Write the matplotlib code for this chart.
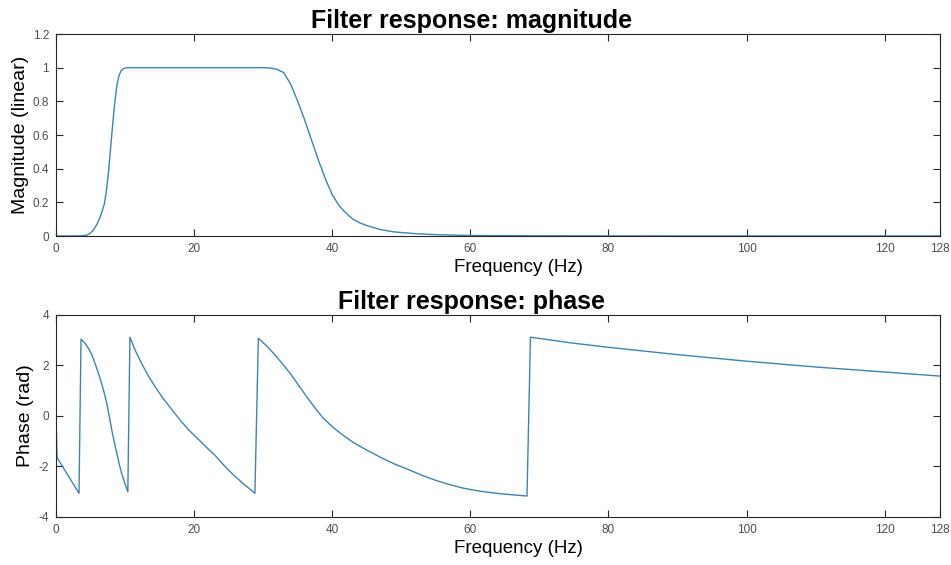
#!/usr/bin/env python3
"""Plot magnitude and phase response of a band-pass filter."""

import matplotlib
matplotlib.use("Agg")
import matplotlib.pyplot as plt
import matplotlib.ticker as ticker

LINE_COLOR = "#3a86b2"
AXIS_COLOR = "#262626"
TICK_COLOR = "#4d4d4d"

plt.rcParams["font.family"] = ["Liberation Sans", "DejaVu Sans"]

# magnitude response (linear), sampled along frequency in Hz
mag_freq = [0, 2, 3.5, 4.0, 4.5, 5.0, 5.5, 6.0, 6.5, 7.0, 7.3, 7.6, 7.9,
            8.2, 8.5, 8.8, 9.1, 9.4, 9.8, 10.3, 15, 20, 25, 30, 31, 32, 33,
            34, 35, 36, 37, 38, 39, 40, 41, 42, 43, 44, 45, 47, 49, 52, 55,
            60, 70, 90, 128]
mag_vals = [0, 0, 0.001, 0.002, 0.006, 0.018, 0.04, 0.075, 0.125, 0.19,
            0.27, 0.38, 0.52, 0.66, 0.79, 0.89, 0.95, 0.98, 0.995, 1.0, 1.0,
            1.0, 1.0, 1.0, 0.998, 0.99, 0.97, 0.9, 0.8, 0.69, 0.57, 0.45,
            0.34, 0.245, 0.18, 0.135, 0.1, 0.078, 0.062, 0.038, 0.024, 0.014,
            0.008, 0.003, 0.001, 0.0002, 0]

# wrapped phase response (rad)
phase_freq = [0, 0.15, 3.33,
              3.62, 4.2, 4.7, 5.2, 5.65, 6.1, 6.6, 7.0, 7.35, 7.7, 8.07,
              8.45, 8.8, 9.15, 9.5, 9.95, 10.4,
              10.7, 11.5, 12.4, 13.3, 14.35, 15.5, 16.8, 18, 19.2, 20.9, 22,
              23.0, 24.3, 25.7, 27.2, 28.8,
              29.3, 30.4, 31.5, 32.7, 33.9, 35.1, 36.3, 37.5, 38.7, 40, 41.2,
              43, 45, 47, 49, 51, 53, 55, 57, 59, 61.4, 64, 66, 68.2,
              68.7, 75, 80, 90, 100, 110, 120, 128]
phase_vals = [0, -1.65, -3.06,
              3.04, 2.88, 2.68, 2.42, 2.08, 1.72, 1.29, 0.9, 0.5, 0.0, -0.55,
              -1.05, -1.48, -1.9, -2.27, -2.65, -3.0,
              3.12, 2.58, 2.08, 1.62, 1.16, 0.7, 0.24, -0.17, -0.55, -1.0,
              -1.3, -1.55, -1.95, -2.34, -2.7, -3.06,
              3.08, 2.8, 2.48, 2.1, 1.69, 1.23, 0.76, 0.32, -0.09, -0.42,
              -0.69, -1.04, -1.35, -1.64, -1.9, -2.12, -2.35, -2.55, -2.72,
              -2.86, -2.98, -3.07, -3.12, -3.17,
              3.12, 2.88, 2.72, 2.43, 2.17, 1.94, 1.74, 1.58]

X_TICKS = [0, 20, 40, 60, 80, 100, 120, 128]


def style_axes(ax, yticks):
    ax.set_xlim(0, 128)
    ax.set_xticks(X_TICKS)
    ax.set_yticks(yticks)
    ax.xaxis.set_major_formatter(ticker.FormatStrFormatter("%g"))
    ax.yaxis.set_major_formatter(ticker.FormatStrFormatter("%g"))
    ax.tick_params(direction="in", top=True, right=True, length=5,
                   width=0.8, color=AXIS_COLOR, labelsize=8.5,
                   labelcolor=TICK_COLOR, pad=5)
    for s in ax.spines.values():
        s.set_color(AXIS_COLOR)
        s.set_linewidth(0.8)


fig = plt.figure(figsize=(9.51, 5.65), dpi=100)
ax1 = fig.add_axes([0.0589, 0.5823, 0.9295, 0.3575])
ax2 = fig.add_axes([0.0589, 0.0850, 0.9295, 0.3575])

ax1.plot(mag_freq, mag_vals, color=LINE_COLOR, linewidth=1.0)
ax1.set_ylim(0, 1.2)
style_axes(ax1, [0, 0.2, 0.4, 0.6, 0.8, 1, 1.2])
ax1.set_title("Filter response: magnitude", fontsize=18, fontweight="bold",
              x=0.47, pad=4)
ax1.set_xlabel("Frequency (Hz)", fontsize=13.5)
ax1.xaxis.set_label_coords(0.523, -0.112)
ax1.set_ylabel("Magnitude (linear)", fontsize=14)
ax1.yaxis.set_label_coords(-0.031, 0.5)

ax2.plot(phase_freq, phase_vals, color=LINE_COLOR, linewidth=1.0)
ax2.set_ylim(-4, 4)
style_axes(ax2, [-4, -2, 0, 2, 4])
ax2.set_title("Filter response: phase", fontsize=18, fontweight="bold",
              x=0.47, pad=4)
ax2.set_xlabel("Frequency (Hz)", fontsize=13.5)
ax2.xaxis.set_label_coords(0.523, -0.112)
ax2.set_ylabel("Phase (rad)", fontsize=14)
ax2.yaxis.set_label_coords(-0.025, 0.5)

fig.savefig("out.png", dpi=100)
plt.close(fig)
